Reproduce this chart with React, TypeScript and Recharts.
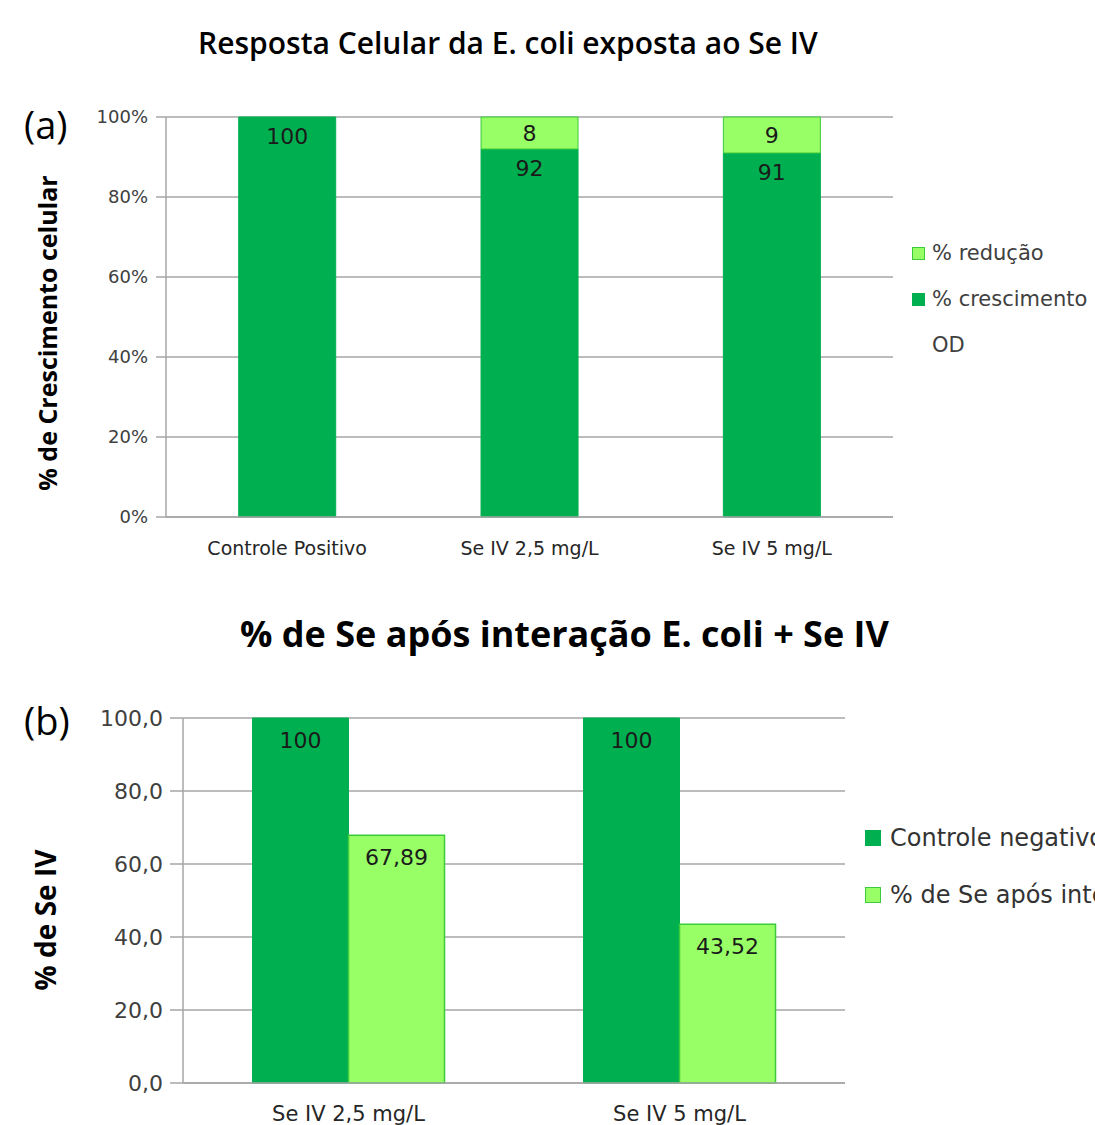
import { BarChart, Bar, XAxis, YAxis, CartesianGrid, LabelList } from 'recharts'

// painel (a): resposta celular
const categoriasA = ['Controle Positivo', 'Se IV 2,5 mg/L', 'Se IV 5 mg/L']
const crescimento = [100, 92, 91]
const reducao = [0, 8, 9]

// painel (b): % de Se após interação
const categoriasB = ['Se IV 2,5 mg/L', 'Se IV 5 mg/L']
const controleNegativo = [100, 100]
const seAposInteracao = [67.89, 43.52]

const yTicks = [0, 20, 40, 60, 80, 100]

const VERDE = '#00B050'
const VERDE_CLARO = '#99FF66'
const BORDA_CLARO = '#3BCB3B'
const GRID = '#a6a6a6'
const TEXTO = '#404040'

const dadosA = categoriasA.map((name, i) => ({ name, crescimento: crescimento[i], reducao: reducao[i] }))
const dadosB = categoriasB.map((name, i) => ({ name, controle: controleNegativo[i], se: seAposInteracao[i] }))

const virgula = (v: any) => String(v).replace('.', ',')

const tickFont = { fontFamily: 'DejaVu Sans', fill: TEXTO }
const labelFont = { fontFamily: 'DejaVu Sans', fontSize: 22, fill: '#1a1a1a' }

type Item = { label: string; fill: string | null; stroke: string | null }

function Legenda({ items, left, top, rowH, box, gap, fontSize, color }:
  { items: Item[]; left: number; top: number; rowH: number; box: number; gap: number; fontSize: number; color: string }) {
  return (
    <div style={{ position: 'absolute', left, top, fontFamily: 'DejaVu Sans', fontSize, color }}>
      {items.map((it) => (
        <div key={it.label} style={{ height: rowH, display: 'flex', alignItems: 'center', whiteSpace: 'nowrap' }}>
          <span style={{ width: box, height: box, flexShrink: 0, marginRight: gap, boxSizing: 'border-box',
            background: it.fill ?? 'transparent', border: it.stroke ? `1.5px solid ${it.stroke}` : 'none' }} />
          {it.label}
        </div>
      ))}
    </div>
  )
}

const legendaA: Item[] = [
  { label: '% redução', fill: VERDE_CLARO, stroke: BORDA_CLARO },
  { label: '% crescimento', fill: VERDE, stroke: VERDE },
  { label: 'OD', fill: null, stroke: null },
]

const legendaB: Item[] = [
  { label: 'Controle negativo', fill: VERDE, stroke: VERDE },
  { label: '% de Se após interação', fill: VERDE_CLARO, stroke: BORDA_CLARO },
]

const titleStyle = {
  position: 'absolute' as const,
  left: 0,
  width: '100%',
  fontFamily: 'Open Sans',
  color: '#000',
  whiteSpace: 'nowrap' as const,
}

export default function App() {
  return (
    <div style={{ position: 'absolute', left: 0, top: 0, width: 1095, height: 1125, overflow: 'hidden', background: '#fff' }}>
      <div style={{ position: 'absolute', left: 0, top: 0 }}>
        <BarChart width={1095} height={580} data={dadosA} barCategoryGap="30%"
          margin={{ top: 117, right: 202, bottom: 0, left: 0 }}>
          <CartesianGrid xAxisId="cat" vertical={false} stroke={GRID} strokeWidth={1.5} />
          <XAxis xAxisId="edge" type="number" domain={[0, 3]} ticks={[0, 1, 2, 3]} height={0}
            tick={false} axisLine={false} tickSize={9} tickLine={{ stroke: GRID, strokeWidth: 1.5 }} />
          <XAxis xAxisId="cat" dataKey="name" height={63} tickSize={0} tickMargin={25} tickLine={false}
            axisLine={{ stroke: GRID, strokeWidth: 1.5 }}
            tick={{ fontFamily: 'DejaVu Sans', fontSize: 19, fill: '#262626' }} />
          <YAxis width={166} domain={[0, 100]} ticks={yTicks} tickFormatter={(v) => `${v}%`}
            tickSize={10} tickMargin={8} axisLine={{ stroke: GRID, strokeWidth: 1.5 }}
            tickLine={{ stroke: GRID, strokeWidth: 1.5 }} tick={{ ...tickFont, fontSize: 18 }}
            label={{ content: () => (
              <text x={47} y={333} transform="rotate(-90 47 333)" textAnchor="middle" dominantBaseline="central"
                fontFamily="Open Sans" fontWeight={700} fontSize={25} fill="#000">
                % de Crescimento celular
              </text>
            ) }} />
          <Bar xAxisId="cat" dataKey="crescimento" stackId="a" fill={VERDE} stroke={VERDE} isAnimationActive={false}>
            <LabelList dataKey="crescimento" position="insideTop" offset={11} style={labelFont} />
          </Bar>
          <Bar xAxisId="cat" dataKey="reducao" stackId="a" fill={VERDE_CLARO} stroke={BORDA_CLARO} isAnimationActive={false}>
            <LabelList dataKey="reducao" position="center" formatter={(v: any) => (v ? v : '')} style={labelFont} />
          </Bar>
        </BarChart>
      </div>

      <div style={{ position: 'absolute', left: 0, top: 580 }}>
        <BarChart width={1095} height={545} data={dadosB} barCategoryGap="21%" barGap={0}
          margin={{ top: 138, right: 250, bottom: 0, left: 0 }}>
          <CartesianGrid xAxisId="cat" vertical={false} stroke={GRID} strokeWidth={1.5} />
          <XAxis xAxisId="edge" type="number" domain={[0, 2]} ticks={[0, 1, 2]} height={0}
            tick={false} axisLine={false} tickSize={10} tickLine={{ stroke: GRID, strokeWidth: 1.5 }} />
          <XAxis xAxisId="cat" dataKey="name" height={42} tickSize={0} tickMargin={23} tickLine={false}
            axisLine={{ stroke: GRID, strokeWidth: 1.5 }}
            tick={{ ...tickFont, fontSize: 21, fill: '#262626' }} />
          <YAxis width={183} domain={[0, 100]} ticks={yTicks} tickFormatter={(v) => Number(v).toFixed(1).replace('.', ',')}
            tickSize={13} tickMargin={7} axisLine={{ stroke: GRID, strokeWidth: 1.5 }}
            tickLine={{ stroke: GRID, strokeWidth: 1.5 }} tick={{ ...tickFont, fontSize: 22 }}
            label={{ content: () => (
              <text x={45} y={340} transform="rotate(-90 45 340)" textAnchor="middle" dominantBaseline="central"
                fontFamily="Open Sans" fontWeight={700} fontSize={28} fill="#000">
                % de Se IV
              </text>
            ) }} />
          <Bar xAxisId="cat" dataKey="controle" fill={VERDE} stroke={VERDE} isAnimationActive={false}>
            <LabelList dataKey="controle" position="insideTop" offset={14} formatter={virgula} style={labelFont} />
          </Bar>
          <Bar xAxisId="cat" dataKey="se" fill={VERDE_CLARO} stroke={BORDA_CLARO} strokeWidth={1.5} isAnimationActive={false}>
            <LabelList dataKey="se" position="insideTop" offset={14} formatter={virgula} style={labelFont} />
          </Bar>
        </BarChart>
      </div>

      <div style={{ ...titleStyle, top: 22, paddingLeft: 198, fontSize: 30, fontWeight: 600 }}>
        Resposta Celular da E. coli exposta ao Se IV
      </div>
      <div style={{ ...titleStyle, top: 609, paddingLeft: 240, fontSize: 36, fontWeight: 700 }}>
        % de Se após interação E. coli + Se IV
      </div>
      <div style={{ position: 'absolute', left: 24, top: 98, fontFamily: 'Open Sans', fontSize: 38 }}>(a)</div>
      <div style={{ position: 'absolute', left: 24, top: 694, fontFamily: 'Open Sans', fontSize: 38 }}>(b)</div>

      <Legenda items={legendaA} left={912} top={230} rowH={46} box={13} gap={7} fontSize={21} color={TEXTO} />
      <Legenda items={legendaB} left={865} top={809} rowH={57} box={16} gap={9} fontSize={24} color="#333" />
    </div>
  )
}
